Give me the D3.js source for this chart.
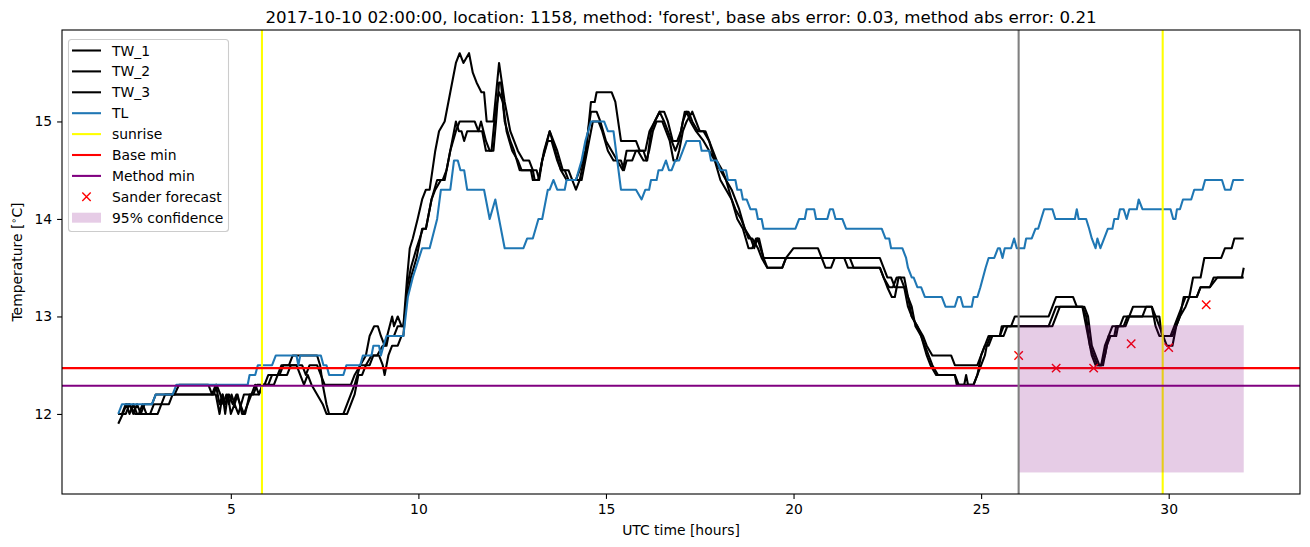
<!DOCTYPE html>
<html><head><meta charset="utf-8">
<script src="https://cdn.jsdelivr.net/npm/d3@7"></script>
<style>body{margin:0;background:#fff} text{font-family:"DejaVu Sans",sans-serif;fill:#000}</style>
</head><body><svg id="c" width="1310" height="547"></svg>
<script>
// [hour, temperature] readings
const TW_1 = [[2.0,11.9],[2.12,12.0],[2.22,12.1],[2.3,12.0],[2.4,12.1],[2.5,12.0],[2.85,12.0],[2.95,12.1],[3.15,12.1],[3.25,12.2],[4.55,12.2],[4.62,12.3],[4.72,12.2],[4.8,12.1],[4.88,12.2],[4.95,12.1],[5.02,12.2],[5.1,12.1],[5.18,12.2],[5.3,12.0],[5.38,12.0],[5.5,12.2],[5.6,12.2],[5.7,12.3],[5.9,12.3],[6.0,12.4],[6.25,12.4],[6.35,12.5],[6.55,12.5],[6.65,12.6],[7.3,12.6],[7.38,12.5],[7.45,12.3],[7.55,12.1],[7.62,12.0],[8.0,12.0],[8.1,12.1],[8.2,12.2],[8.3,12.3],[8.45,12.5],[8.6,12.6],[8.7,12.8],[8.82,12.9],[8.92,12.9],[9.0,12.8],[9.1,12.7],[9.3,13.0],[9.35,12.9],[9.45,13.0],[9.55,12.9],[9.6,12.9],[9.7,13.4],[9.77,13.7],[9.85,13.8],[9.98,14.0],[10.1,14.2],[10.2,14.3],[10.3,14.3],[10.45,14.7],[10.55,14.9],[10.7,15.0],[10.85,15.3],[11.0,15.6],[11.1,15.7],[11.2,15.6],[11.35,15.7],[11.45,15.5],[11.55,15.4],[11.68,15.3],[11.75,15.3],[11.82,15.0],[12.0,15.0],[12.15,15.6],[12.3,15.2],[12.45,14.9],[12.55,14.8],[12.65,14.7],[12.8,14.6],[12.95,14.6],[13.05,14.5],[13.15,14.5],[13.22,14.4],[13.3,14.6],[13.5,14.9],[13.6,14.8],[13.7,14.7],[13.85,14.5],[14.0,14.5],[14.1,14.4],[14.2,14.3],[14.3,14.4],[14.47,14.7],[14.6,15.2],[14.7,15.2],[14.75,15.3],[15.15,15.3],[15.25,15.2],[15.4,14.8],[15.8,14.8],[15.9,14.7],[16.05,14.7],[16.16,14.9],[16.3,15.0],[16.43,15.1],[16.55,15.1],[16.65,15.0],[16.78,14.8],[16.9,14.8],[17.0,14.9],[17.1,15.1],[17.2,15.1],[17.3,15.0],[17.45,14.9],[17.6,14.9],[17.75,14.8],[17.9,14.6],[18.05,14.5],[18.2,14.4],[18.35,14.3],[18.45,14.2],[18.55,14.1],[18.7,13.9],[18.86,13.8],[18.95,13.7],[19.04,13.8],[19.12,13.7],[19.2,13.6],[22.3,13.6],[22.4,13.5],[22.5,13.4],[22.6,13.4],[22.7,13.3],[22.95,13.3],[23.05,13.2],[23.15,13.0],[23.3,12.9],[23.45,12.8],[23.55,12.7],[23.7,12.6],[24.2,12.6],[24.3,12.5],[24.9,12.5],[25.0,12.6],[25.1,12.7],[25.2,12.8],[25.5,12.8],[25.55,12.9],[25.8,12.9],[25.9,13.0],[26.8,13.0],[26.9,13.1],[27.0,13.2],[27.45,13.2],[27.55,13.1],[27.7,13.1],[27.75,13.0],[27.85,12.8],[27.95,12.6],[28.05,12.5],[28.2,12.5],[28.3,12.6],[28.4,12.8],[28.5,12.9],[28.7,12.9],[28.8,13.0],[28.95,13.0],[29.05,13.1],[29.55,13.1],[29.65,12.9],[29.75,12.8],[29.85,12.8],[29.95,12.7],[30.1,12.7],[30.2,12.9],[30.3,13.0],[30.4,13.2],[30.55,13.2],[30.65,13.4],[30.85,13.4],[30.95,13.6],[31.4,13.6],[31.5,13.7],[31.68,13.7],[31.75,13.8],[32.0,13.8]];
const TW_2 = [[2.0,12.0],[2.1,12.0],[2.2,12.1],[2.3,12.1],[2.4,12.0],[2.5,12.1],[2.6,12.0],[2.7,12.1],[2.9,12.1],[3.0,12.2],[3.5,12.2],[3.62,12.3],[4.4,12.3],[4.5,12.2],[4.6,12.3],[4.7,12.1],[4.78,12.2],[4.85,12.0],[4.92,12.2],[5.0,12.0],[5.1,12.1],[5.2,12.0],[5.35,12.2],[5.55,12.2],[5.65,12.3],[5.75,12.2],[5.85,12.3],[6.0,12.3],[6.1,12.4],[6.3,12.4],[6.4,12.5],[6.9,12.5],[7.0,12.4],[7.1,12.5],[7.3,12.5],[7.4,12.4],[7.5,12.3],[8.2,12.3],[8.3,12.4],[8.45,12.5],[8.6,12.5],[8.75,12.6],[8.95,12.6],[9.05,12.5],[9.1,12.4],[9.2,12.6],[9.3,12.7],[9.45,12.7],[9.55,12.8],[9.6,12.8],[9.7,13.3],[9.8,13.5],[9.95,13.7],[10.12,13.9],[10.2,13.9],[10.35,14.2],[10.5,14.4],[10.65,14.4],[10.75,14.5],[10.9,14.8],[11.0,15.0],[11.08,14.9],[11.15,14.9],[11.22,14.8],[11.3,14.9],[11.6,14.9],[11.67,15.0],[11.8,14.8],[11.9,14.7],[12.0,14.7],[12.07,15.0],[12.15,15.4],[12.2,15.4],[12.3,15.0],[12.45,14.8],[12.55,14.7],[12.7,14.5],[13.0,14.5],[13.05,14.4],[13.2,14.4],[13.35,14.7],[13.5,14.9],[13.65,14.7],[13.8,14.5],[13.95,14.4],[14.2,14.4],[14.3,14.5],[14.45,14.7],[14.6,15.1],[14.75,15.1],[14.85,15.0],[15.0,14.8],[15.15,14.7],[15.3,14.6],[15.45,14.5],[15.55,14.7],[15.85,14.7],[16.0,14.6],[16.1,14.6],[16.2,14.9],[16.3,15.0],[16.43,15.1],[16.55,15.0],[16.65,14.9],[16.75,14.8],[16.85,14.7],[16.95,14.8],[17.05,15.0],[17.15,15.1],[17.25,15.0],[17.4,14.9],[17.6,14.8],[17.75,14.7],[17.9,14.6],[18.05,14.4],[18.2,14.3],[18.35,14.2],[18.5,14.0],[18.65,13.9],[18.8,13.7],[18.9,13.7],[19.0,13.8],[19.08,13.8],[19.2,13.6],[19.3,13.5],[19.7,13.5],[19.8,13.6],[20.0,13.7],[20.65,13.7],[20.75,13.6],[20.85,13.5],[21.0,13.5],[21.1,13.6],[21.5,13.6],[21.6,13.5],[22.3,13.5],[22.4,13.4],[22.5,13.3],[22.62,13.2],[22.7,13.2],[22.8,13.4],[22.95,13.4],[23.05,13.2],[23.15,13.1],[23.25,12.9],[23.4,12.8],[23.5,12.7],[23.6,12.6],[23.7,12.5],[23.85,12.4],[24.3,12.4],[24.4,12.3],[24.55,12.3],[24.6,12.4],[24.65,12.3],[24.8,12.3],[24.9,12.4],[25.0,12.5],[25.1,12.6],[25.15,12.7],[25.25,12.8],[25.6,12.8],[25.7,12.9],[26.8,12.9],[26.9,13.0],[27.0,13.1],[27.7,13.1],[27.8,13.0],[27.9,12.7],[28.0,12.6],[28.1,12.5],[28.2,12.5],[28.3,12.7],[28.4,12.8],[28.55,12.8],[28.6,12.9],[28.8,12.9],[28.9,13.0],[29.75,13.0],[29.82,12.8],[30.05,12.8],[30.15,12.9],[30.25,13.0],[30.35,13.1],[30.45,13.2],[30.75,13.2],[30.85,13.3],[31.1,13.3],[31.3,13.4],[31.95,13.4],[32.0,13.5]];
const TW_3 = [[2.0,12.0],[2.2,12.0],[2.3,12.1],[2.45,12.0],[2.55,12.0],[2.65,12.1],[2.75,12.0],[3.05,12.0],[3.15,12.1],[3.35,12.1],[3.45,12.2],[4.6,12.2],[4.7,12.0],[4.78,12.2],[4.86,12.1],[4.95,12.2],[5.05,12.1],[5.15,12.2],[5.25,12.1],[5.35,12.0],[5.45,12.1],[5.55,12.2],[5.75,12.2],[5.85,12.3],[6.15,12.3],[6.25,12.4],[6.5,12.4],[6.6,12.5],[6.75,12.5],[6.85,12.4],[6.95,12.3],[7.05,12.4],[7.15,12.3],[7.3,12.2],[7.45,12.1],[7.55,12.0],[8.1,12.0],[8.2,12.1],[8.3,12.2],[8.4,12.4],[8.5,12.4],[8.6,12.5],[8.7,12.5],[8.8,12.6],[8.9,12.6],[9.05,12.7],[9.15,12.7],[9.2,12.8],[9.35,12.8],[9.45,12.9],[9.6,12.9],[9.7,13.2],[9.8,13.4],[9.95,13.6],[10.1,13.9],[10.2,13.9],[10.35,14.2],[10.45,14.3],[10.6,14.4],[10.7,14.4],[10.85,14.7],[11.0,14.9],[11.1,15.0],[11.5,15.0],[11.6,14.9],[11.7,14.9],[11.8,14.7],[11.95,14.7],[12.05,15.1],[12.15,15.3],[12.25,15.2],[12.35,14.9],[12.5,14.7],[12.65,14.6],[12.75,14.5],[13.05,14.5],[13.1,14.4],[13.2,14.4],[13.3,14.6],[13.45,14.8],[13.55,14.8],[13.7,14.6],[13.8,14.5],[13.9,14.5],[14.0,14.4],[14.35,14.4],[14.45,14.6],[14.55,14.8],[14.65,15.0],[14.8,15.0],[14.9,14.9],[15.05,14.7],[15.2,14.6],[15.4,14.6],[15.48,14.5],[15.55,14.6],[15.7,14.6],[15.8,14.7],[16.0,14.7],[16.08,14.6],[16.15,14.7],[16.25,14.9],[16.35,15.0],[16.5,15.0],[16.6,14.9],[16.7,14.8],[16.8,14.6],[16.88,14.6],[16.95,14.7],[17.05,14.9],[17.15,15.0],[17.3,15.1],[17.4,15.0],[17.5,14.9],[17.65,14.9],[17.75,14.8],[17.85,14.7],[17.95,14.6],[18.1,14.5],[18.2,14.4],[18.35,14.2],[18.45,14.1],[18.6,14.0],[18.7,13.9],[18.8,13.8],[18.9,13.8],[19.05,13.7],[19.15,13.6],[19.3,13.5],[19.7,13.5],[19.8,13.6],[21.35,13.6],[21.45,13.5],[22.3,13.5],[22.4,13.4],[22.55,13.3],[22.65,13.3],[22.75,13.4],[22.85,13.4],[22.95,13.3],[23.05,13.1],[23.15,13.0],[23.3,12.9],[23.4,12.8],[23.55,12.6],[23.65,12.5],[23.8,12.4],[24.3,12.4],[24.35,12.3],[24.8,12.3],[24.9,12.4],[25.0,12.6],[25.1,12.7],[25.2,12.7],[25.3,12.8],[25.5,12.8],[25.6,12.9],[26.9,12.9],[27.0,13.0],[27.1,13.1],[27.75,13.1],[27.85,13.0],[27.95,12.7],[28.05,12.6],[28.15,12.5],[28.25,12.5],[28.35,12.7],[28.45,12.8],[28.6,12.8],[28.65,12.9],[28.85,12.9],[28.95,13.0],[29.3,13.0],[29.4,13.1],[29.55,13.1],[29.65,13.0],[29.75,12.9],[29.85,12.8],[30.1,12.8],[30.2,12.9],[30.3,13.0],[30.45,13.1],[30.55,13.2],[30.75,13.2],[30.85,13.3],[31.1,13.3],[31.2,13.4],[32.0,13.4]];
const TL = [[2.0,12.0],[2.1,12.1],[2.9,12.1],[3.0,12.2],[3.45,12.2],[3.55,12.3],[5.45,12.3],[5.5,12.4],[5.65,12.4],[5.72,12.5],[6.1,12.5],[6.2,12.6],[6.75,12.6],[6.8,12.5],[6.85,12.6],[7.4,12.6],[7.47,12.5],[7.55,12.5],[7.62,12.4],[8.0,12.4],[8.08,12.5],[8.45,12.5],[8.52,12.6],[8.75,12.6],[8.8,12.7],[8.95,12.7],[9.0,12.6],[9.07,12.7],[9.15,12.8],[9.6,12.8],[9.72,13.2],[9.85,13.4],[10.1,13.7],[10.3,13.7],[10.5,14.0],[10.6,14.3],[10.85,14.3],[10.95,14.6],[11.05,14.6],[11.12,14.5],[11.22,14.5],[11.3,14.3],[11.75,14.3],[11.9,14.0],[12.05,14.2],[12.3,13.7],[12.8,13.7],[12.9,13.8],[13.05,13.8],[13.2,14.0],[13.3,14.0],[13.35,14.1],[13.45,14.3],[13.5,14.3],[13.6,14.4],[13.7,14.3],[13.9,14.3],[13.95,14.4],[14.2,14.4],[14.35,14.6],[14.45,14.8],[14.6,15.0],[14.95,15.0],[15.05,14.9],[15.2,14.9],[15.4,14.3],[15.8,14.3],[15.95,14.2],[16.05,14.3],[16.15,14.3],[16.2,14.4],[16.35,14.4],[16.4,14.5],[16.5,14.5],[16.6,14.6],[16.68,14.5],[16.75,14.5],[16.85,14.6],[16.95,14.6],[17.05,14.7],[17.15,14.8],[17.5,14.8],[17.55,14.7],[17.75,14.7],[17.8,14.6],[17.95,14.6],[18.05,14.5],[18.2,14.5],[18.25,14.4],[18.45,14.4],[18.5,14.3],[18.6,14.3],[18.65,14.2],[18.75,14.2],[18.85,14.1],[19.0,14.1],[19.05,14.0],[19.15,14.0],[19.2,13.9],[20.05,13.9],[20.15,14.0],[20.3,14.0],[20.35,14.1],[20.55,14.1],[20.6,14.0],[20.9,14.0],[20.97,14.1],[21.05,14.1],[21.12,14.0],[21.3,14.0],[21.4,13.9],[22.35,13.9],[22.45,13.8],[22.55,13.8],[22.6,13.7],[22.9,13.7],[23.0,13.6],[23.05,13.5],[23.15,13.4],[23.2,13.4],[23.3,13.3],[23.4,13.3],[23.5,13.2],[23.95,13.2],[24.05,13.1],[24.3,13.1],[24.38,13.2],[24.45,13.2],[24.52,13.1],[24.75,13.1],[24.8,13.2],[24.9,13.2],[24.98,13.3],[25.05,13.4],[25.12,13.5],[25.2,13.6],[25.35,13.6],[25.45,13.7],[25.5,13.7],[25.57,13.6],[25.63,13.7],[25.8,13.7],[25.88,13.8],[25.95,13.7],[26.15,13.7],[26.2,13.8],[26.35,13.8],[26.45,13.9],[26.52,13.9],[26.6,14.0],[26.68,14.1],[26.9,14.1],[26.98,14.0],[27.5,14.0],[27.55,14.1],[27.6,14.0],[27.8,14.0],[27.88,13.9],[27.95,13.8],[28.05,13.7],[28.1,13.8],[28.18,13.7],[28.28,13.8],[28.38,13.9],[28.5,13.9],[28.55,14.0],[28.65,14.0],[28.7,14.1],[28.8,14.1],[28.88,14.0],[28.95,14.1],[29.15,14.1],[29.2,14.2],[29.3,14.1],[30.05,14.1],[30.12,14.0],[30.18,14.0],[30.22,14.1],[30.3,14.1],[30.38,14.2],[30.6,14.2],[30.68,14.3],[30.9,14.3],[30.97,14.4],[31.42,14.4],[31.5,14.3],[31.65,14.3],[31.72,14.4],[32.0,14.4]];
const forecastHours = [26, 27, 28, 29, 30, 31];
const forecastValues = [12.60, 12.47, 12.47, 12.72, 12.68, 13.12];
const sunriseHours = [5.83, 29.84];
const baseMin = 12.47;
const methodMin = 12.29;
const forecastStart = 26;
const confHours = [26, 32];
const confLow = 11.40;
const confHigh = 12.91;
const xTicks = [5, 10, 15, 20, 25, 30];
const yTicks = [12, 13, 14, 15];
const legendLabels = ["TW_1","TW_2","TW_3","TL","sunrise","Base min","Method min","Sander forecast","95% confidence"];
const titleText = "2017-10-10 02:00:00, location: 1158, method: 'forest', base abs error: 0.03, method abs error: 0.21";

const L = 62, R = 1300, T = 30, B = 494;
const svg = d3.select("#c");
const x = d3.scaleLinear().domain([0.5, 33.5]).range([L, R]);
const y = d3.scaleLinear().domain([11.179, 15.938]).range([B, T]);

svg.append("defs").append("clipPath").attr("id","clip").append("rect")
  .attr("x",L).attr("y",T).attr("width",R-L).attr("height",B-T);
const g = svg.append("g").attr("clip-path","url(#clip)");
const line = d3.line().x(d=>x(d[0])).y(d=>y(d[1]));

[TW_1, TW_2, TW_3].forEach(s => g.append("path").datum(s).attr("d", line)
  .attr("fill","none").attr("stroke","#000").attr("stroke-width",2.08).attr("stroke-linejoin","round"));
g.append("path").datum(TL).attr("d", line).attr("fill","none").attr("stroke","#1f77b4")
  .attr("stroke-width",2.08).attr("stroke-linejoin","round");

sunriseHours.forEach(h => g.append("line").attr("x1",x(h)).attr("x2",x(h)).attr("y1",T).attr("y2",B)
  .attr("stroke","#ffff00").attr("stroke-width",2.08));
g.append("line").attr("x1",L).attr("x2",R).attr("y1",y(baseMin)).attr("y2",y(baseMin))
  .attr("stroke","#ff0000").attr("stroke-width",2.08);
g.append("line").attr("x1",L).attr("x2",R).attr("y1",y(methodMin)).attr("y2",y(methodMin))
  .attr("stroke","#800080").attr("stroke-width",2.08);

function cross(sel, cx, cy, r){
  sel.append("path").attr("d",`M${cx-r},${cy-r}L${cx+r},${cy+r}M${cx-r},${cy+r}L${cx+r},${cy-r}`)
    .attr("stroke","#ff0000").attr("stroke-width",1.4).attr("fill","none");
}
forecastHours.forEach((h,i) => cross(g, x(h), y(forecastValues[i]), 4.2));

g.append("rect").attr("x",x(confHours[0])).attr("width",x(confHours[1])-x(confHours[0]))
  .attr("y",y(confHigh)).attr("height",y(confLow)-y(confHigh)).attr("fill","#800080").attr("fill-opacity",0.2);

g.append("line").attr("x1",x(forecastStart)).attr("x2",x(forecastStart)).attr("y1",T).attr("y2",B)
  .attr("stroke","#808080").attr("stroke-width",2.08);

// axes
const xAxis = d3.axisBottom(x).tickValues(xTicks).tickSize(4.9).tickPadding(4.9).tickFormat(d3.format("d"));
const yAxis = d3.axisLeft(y).tickValues(yTicks).tickSize(4.9).tickPadding(4.9).tickFormat(d3.format("d"));
const gx = svg.append("g").attr("transform",`translate(0,${B})`).call(xAxis);
const gy = svg.append("g").attr("transform",`translate(${L},0)`).call(yAxis);
[gx, gy].forEach(a => {
  a.select(".domain").remove();
  a.selectAll(".tick line").attr("stroke","#000").attr("stroke-width",1.1);
  a.selectAll(".tick text").attr("font-size","13.9px").attr("font-family","DejaVu Sans").attr("fill","#000");
});
svg.append("rect").attr("x",L).attr("y",T).attr("width",R-L).attr("height",B-T)
  .attr("fill","none").attr("stroke","#000").attr("stroke-width",1.1);

svg.append("text").attr("x",(L+R)/2).attr("y",23).attr("text-anchor","middle")
  .attr("font-size","16.67px").text(titleText);
svg.append("text").attr("x",(L+R)/2).attr("y",535).attr("text-anchor","middle")
  .attr("font-size","13.9px").text("UTC time [hours]");
const yl = svg.append("text").attr("transform",`translate(22,${(T+B)/2}) rotate(-90)`)
  .attr("text-anchor","middle").attr("font-size","13.9px");
yl.append("tspan").text("Temperature [");
yl.append("tspan").attr("font-size","9.7px").attr("dy","-5").text("\u2218");
yl.append("tspan").attr("dy","5").text("C]");

// legend
const lg = svg.append("g");
lg.append("rect").attr("x",68.5).attr("y",39.5).attr("width",160).attr("height",192).attr("rx",3)
  .attr("fill","#fff").attr("fill-opacity",0.8).attr("stroke","#cccccc").attr("stroke-width",1.1);
const legColors = ["#000","#000","#000","#1f77b4","#ffff00","#ff0000","#800080"];
legendLabels.forEach((lab,i) => {
  const cy = 50.5 + i*20.9;
  if (i < 7) {
    lg.append("line").attr("x1",72).attr("x2",101).attr("y1",cy).attr("y2",cy)
      .attr("stroke",legColors[i]).attr("stroke-width",2.08);
  } else if (i === 7) {
    cross(lg, 86.5, cy, 4.2);
  } else {
    lg.append("rect").attr("x",72).attr("y",cy-5).attr("width",29).attr("height",10)
      .attr("fill","#800080").attr("fill-opacity",0.2);
  }
  lg.append("text").attr("x",112).attr("y",cy+5).attr("font-size","13.9px").text(lab);
});
</script></body></html>
